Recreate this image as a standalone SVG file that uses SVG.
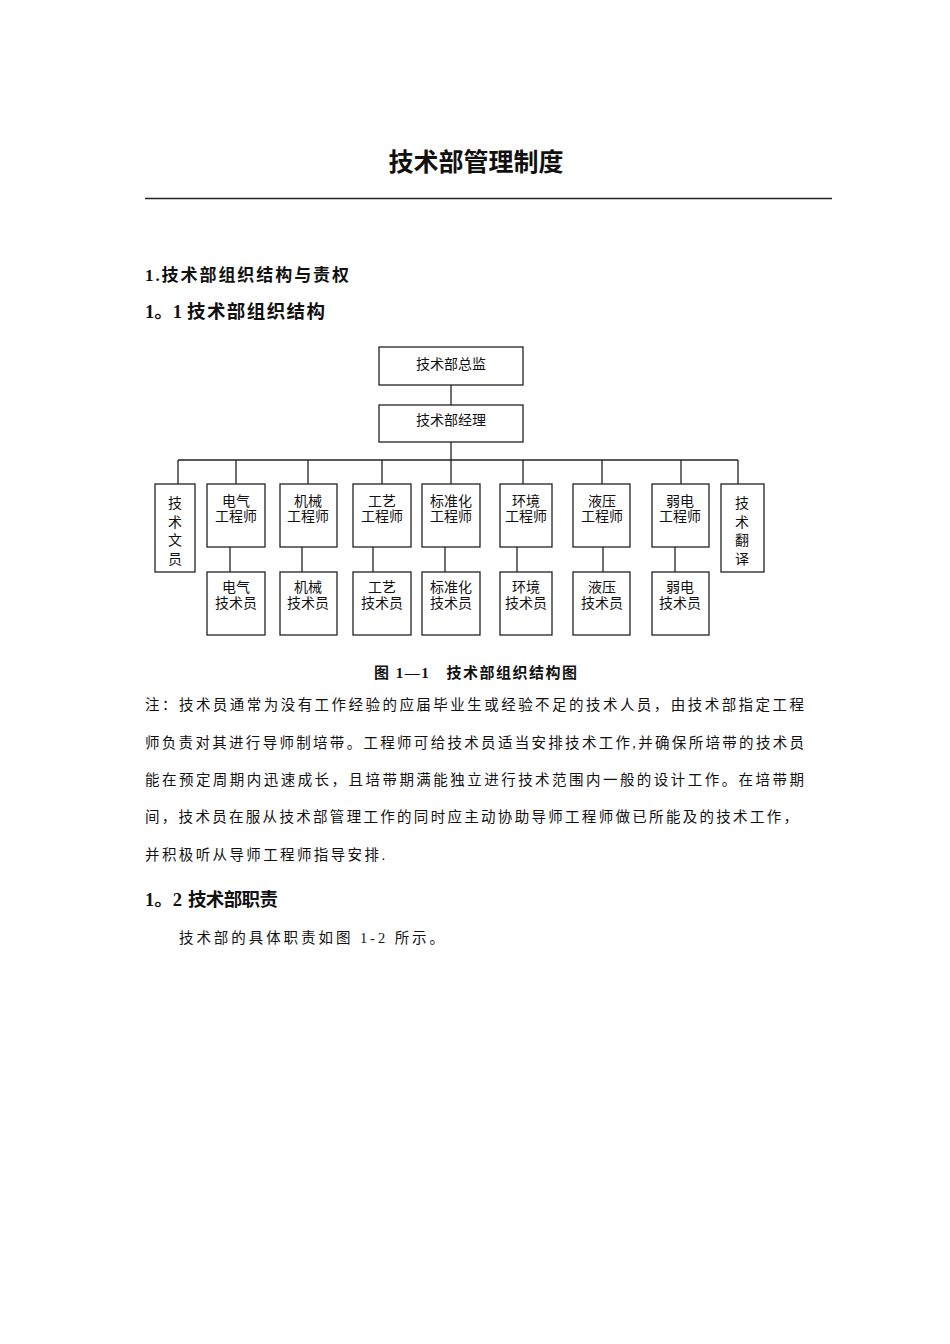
<svg xmlns="http://www.w3.org/2000/svg" width="950" height="1344" viewBox="0 0 950 1344">
<style>
text{font-family:"Liberation Serif","Noto Sans CJK SC",serif;fill:#111}
.t{font-size:25px;font-weight:bold;text-anchor:middle}
.h{font-size:17px;font-weight:bold}
.h2{font-size:18.5px;font-weight:bold}
.cap{font-size:15px;font-weight:bold}
.b{font-size:14.5px}
.n{font-size:14px;text-anchor:middle}
.box{fill:#fff;stroke:#222;stroke-width:1.3}
.ln{fill:none;stroke:#222;stroke-width:1.3}
</style>
<rect width="950" height="1344" fill="#fff"/>
<text class="t" x="476" y="171">技术部管理制度</text>
<line x1="145" y1="198.5" x2="832" y2="198.5" stroke="#222" stroke-width="1.3"/>
<text class="h" x="145" y="281" textLength="204" lengthAdjust="spacing">1.技术部组织结构与责权</text>
<text class="h2" x="145" y="318">1。1</text>
<text class="h2" x="187" y="318" textLength="138" lengthAdjust="spacing">技术部组织结构</text>

<g id="connectors" class="ln">
<line x1="451" y1="385" x2="451" y2="405"/>
<line x1="451" y1="442" x2="451" y2="460"/>
<line x1="178" y1="460" x2="738" y2="460"/>
<line x1="178" y1="460" x2="178" y2="484"/>
<line x1="236" y1="460" x2="236" y2="484"/>
<line x1="308" y1="460" x2="308" y2="484"/>
<line x1="382" y1="460" x2="382" y2="484"/>
<line x1="451" y1="460" x2="451" y2="484"/>
<line x1="523" y1="460" x2="523" y2="484"/>
<line x1="602" y1="460" x2="602" y2="484"/>
<line x1="681" y1="460" x2="681" y2="484"/>
<line x1="738" y1="460" x2="738" y2="484"/>
<line x1="230" y1="547" x2="230" y2="572"/>
<line x1="302" y1="547" x2="302" y2="572"/>
<line x1="373" y1="547" x2="373" y2="572"/>
<line x1="445" y1="547" x2="445" y2="572"/>
<line x1="517" y1="547" x2="517" y2="572"/>
<line x1="603" y1="547" x2="603" y2="572"/>
<line x1="675" y1="547" x2="675" y2="572"/>
</g>

<g id="director"><rect class="box" x="379" y="347" width="144" height="38"/><text class="n" x="451" y="369">技术部总监</text></g>
<g id="manager"><rect class="box" x="379" y="405" width="144" height="37"/><text class="n" x="451" y="425">技术部经理</text></g>

<g id="clerk"><rect class="box" x="155" y="484" width="40" height="88"/>
<text class="n" x="175" y="508">技</text><text class="n" x="175" y="527">术</text><text class="n" x="175" y="545">文</text><text class="n" x="175" y="564">员</text></g>

<g id="eng-elec"><rect class="box" x="207" y="484" width="58" height="63"/><text class="n" x="236" y="506">电气</text><text class="n" x="236" y="521">工程师</text></g>
<g id="eng-mech"><rect class="box" x="280" y="484" width="57" height="63"/><text class="n" x="308" y="506">机械</text><text class="n" x="308" y="521">工程师</text></g>
<g id="eng-proc"><rect class="box" x="353" y="484" width="58" height="63"/><text class="n" x="382" y="506">工艺</text><text class="n" x="382" y="521">工程师</text></g>
<g id="eng-std"><rect class="box" x="422" y="484" width="58" height="63"/><text class="n" x="451" y="506">标准化</text><text class="n" x="451" y="521">工程师</text></g>
<g id="eng-env"><rect class="box" x="500" y="484" width="52" height="63"/><text class="n" x="526" y="506">环境</text><text class="n" x="526" y="521">工程师</text></g>
<g id="eng-hyd"><rect class="box" x="573" y="484" width="57" height="63"/><text class="n" x="602" y="506">液压</text><text class="n" x="602" y="521">工程师</text></g>
<g id="eng-weak"><rect class="box" x="652" y="484" width="57" height="63"/><text class="n" x="680" y="506">弱电</text><text class="n" x="680" y="521">工程师</text></g>

<g id="translator"><rect class="box" x="721" y="484" width="43" height="88"/>
<text class="n" x="742" y="508">技</text><text class="n" x="742" y="527">术</text><text class="n" x="742" y="545">翻</text><text class="n" x="742" y="564">译</text></g>

<g id="tech-elec"><rect class="box" x="207" y="572" width="58" height="63"/><text class="n" x="236" y="592">电气</text><text class="n" x="236" y="608">技术员</text></g>
<g id="tech-mech"><rect class="box" x="280" y="572" width="57" height="63"/><text class="n" x="308" y="592">机械</text><text class="n" x="308" y="608">技术员</text></g>
<g id="tech-proc"><rect class="box" x="353" y="572" width="58" height="63"/><text class="n" x="382" y="592">工艺</text><text class="n" x="382" y="608">技术员</text></g>
<g id="tech-std"><rect class="box" x="422" y="572" width="58" height="63"/><text class="n" x="451" y="592">标准化</text><text class="n" x="451" y="608">技术员</text></g>
<g id="tech-env"><rect class="box" x="500" y="572" width="52" height="63"/><text class="n" x="526" y="592">环境</text><text class="n" x="526" y="608">技术员</text></g>
<g id="tech-hyd"><rect class="box" x="573" y="572" width="57" height="63"/><text class="n" x="602" y="592">液压</text><text class="n" x="602" y="608">技术员</text></g>
<g id="tech-weak"><rect class="box" x="652" y="572" width="57" height="63"/><text class="n" x="680" y="592">弱电</text><text class="n" x="680" y="608">技术员</text></g>

<text class="cap" x="374" y="678" textLength="203" lengthAdjust="spacing">图 1—1　技术部组织结构图</text>
<text class="b" x="145" y="710" textLength="659" lengthAdjust="spacing">注：技术员通常为没有工作经验的应届毕业生或经验不足的技术人员，由技术部指定工程</text>
<text class="b" x="145" y="748" textLength="659" lengthAdjust="spacing">师负责对其进行导师制培带。工程师可给技术员适当安排技术工作,并确保所培带的技术员</text>
<text class="b" x="145" y="785" textLength="659" lengthAdjust="spacing">能在预定周期内迅速成长，且培带期满能独立进行技术范围内一般的设计工作。在培带期</text>
<text class="b" x="145" y="822" textLength="653" lengthAdjust="spacing">间，技术员在服从技术部管理工作的同时应主动协助导师工程师做已所能及的技术工作，</text>
<text class="b" x="145" y="860" textLength="240" lengthAdjust="spacing">并积极听从导师工程师指导安排.</text>
<text class="h2" x="145" y="906">1。2</text>
<text class="h2" x="188" y="906" textLength="90" lengthAdjust="spacing">技术部职责</text>
<text class="b" x="179" y="943" textLength="265" lengthAdjust="spacing">技术部的具体职责如图 1-2 所示。</text>
</svg>
